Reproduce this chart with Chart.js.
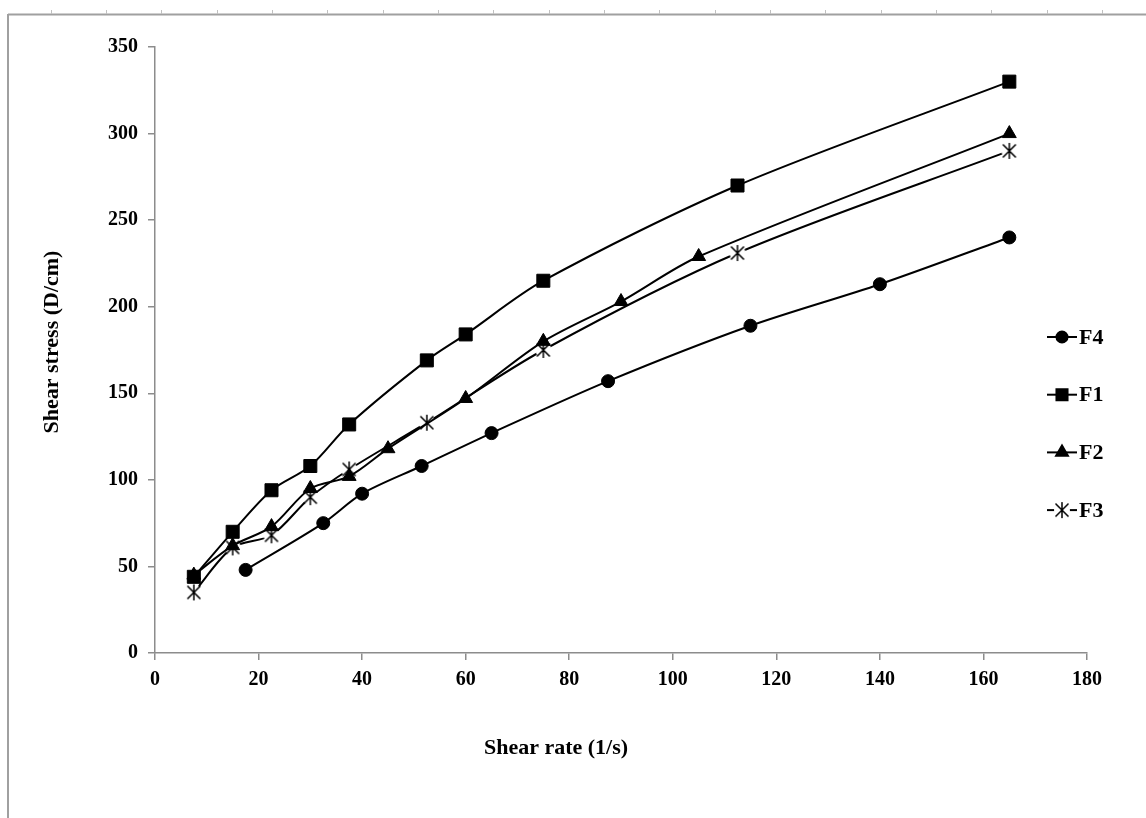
<!DOCTYPE html>
<html>
<head>
<meta charset="utf-8">
<script src="https://cdn.jsdelivr.net/npm/chart.js@4"></script>
<style>
  body { margin: 0; background: #fff; }
  #wrap { width: 1146px; height: 818px; }
</style>
</head>
<body>
<div id="wrap"><canvas id="canvasShear"></canvas></div>
<script>
// values
const seriesNames = ['F4', 'F1', 'F2', 'F3'];
const f4Rate = [17.5, 32.5, 40, 51.5, 65, 87.5, 115, 140, 165];
const f4Stress = [48, 75, 92, 108, 127, 157, 189, 213, 240];
const f1Rate = [7.5, 15, 22.5, 30, 37.5, 52.5, 60, 75, 112.5, 165];
const f1Stress = [44, 70, 94, 108, 132, 169, 184, 215, 270, 330];
const f2Rate = [7.5, 15, 22.5, 30, 37.5, 45, 60, 75, 90, 105, 165];
const f2Stress = [45, 62, 73, 95, 102, 118, 147, 180, 203, 229, 300];
const f3Rate = [7.5, 15, 22.5, 30, 37.5, 52.5, 75, 112.5, 165];
const f3Stress = [35, 61, 68, 90, 106, 133, 175, 231, 290];

const FONT = "'Liberation Serif', 'Times New Roman', serif";

// excel-like asterisk marker (x + vertical bar on white)
function makeAsterisk() {
    let c = document.createElement('canvas');
    c.width = 20; c.height = 20;
    let g = c.getContext('2d');
    g.fillStyle = '#fff';
    g.beginPath(); g.arc(10, 10, 8, 0, Math.PI * 2); g.fill();
    g.strokeStyle = '#000';
    g.lineWidth = 1.5;
    g.beginPath();
    g.moveTo(10, 2); g.lineTo(10, 18);
    g.moveTo(3.5, 3.5); g.lineTo(16.5, 16.5);
    g.moveTo(16.5, 3.5); g.lineTo(3.5, 16.5);
    g.stroke();
    return c;
}
const asterisk = makeAsterisk();

function pairs(xs, ys) {
    return xs.map((x, i) => ({x: x, y: ys[i]}));
}

function serie(label, xs, ys, style, radius) {
    return {
        label: label,
        data: pairs(xs, ys),
        borderColor: '#000',
        backgroundColor: '#000',
        borderWidth: 2,
        tension: 0.3,
        pointStyle: style,
        pointRadius: radius,
        pointHoverRadius: radius,
        pointBorderWidth: 1,
        pointBackgroundColor: '#000',
        pointBorderColor: '#000',
        fill: false
    };
}

// page frame, titles and the legend on the right
const decor = {
    id: 'decor',
    beforeDraw(chart) {
        let ctx = chart.ctx;
        ctx.save();
        ctx.fillStyle = '#fff';
        ctx.fillRect(0, 0, chart.width, chart.height);
        ctx.strokeStyle = '#a0a0a0';
        ctx.lineWidth = 2;
        ctx.beginPath();
        ctx.moveTo(8, 14.5); ctx.lineTo(chart.width, 14.5);
        ctx.moveTo(8, 14); ctx.lineTo(8, chart.height);
        ctx.stroke();
        ctx.lineWidth = 1;
        ctx.strokeStyle = '#c0c0c0';
        ctx.beginPath();
        for (let x = 50.7; x < chart.width; x += 55.33) {
            ctx.moveTo(Math.round(x) + 0.5, 10);
            ctx.lineTo(Math.round(x) + 0.5, 14);
        }
        ctx.stroke();
        ctx.restore();
    },
    afterDraw(chart) {
        let ctx = chart.ctx;
        ctx.save();
        ctx.fillStyle = '#000';
        ctx.font = 'bold 22px ' + FONT;
        ctx.textAlign = 'center';
        ctx.textBaseline = 'middle';
        ctx.fillText('Shear rate (1/s)', 556, 748);
        ctx.translate(52, 342);
        ctx.rotate(-Math.PI / 2);
        ctx.fillText('Shear stress (D/cm)', 0, 0);
        ctx.restore();

        ctx.save();
        chart.data.datasets.forEach((ds, i) => {
            let y = 337 + i * 57.7;
            ctx.strokeStyle = '#000';
            ctx.lineWidth = 2;
            ctx.beginPath();
            ctx.moveTo(1047, y); ctx.lineTo(1077, y);
            ctx.stroke();
            ctx.fillStyle = '#000';
            Chart.helpers.drawPoint(ctx, {
                pointStyle: ds.pointStyle,
                radius: ds.pointRadius * 0.85,
                rotation: 0,
                borderWidth: 1
            }, 1062, y);
            ctx.fillStyle = '#000';
            ctx.font = 'bold 22px ' + FONT;
            ctx.textAlign = 'left';
            ctx.textBaseline = 'middle';
            ctx.fillText(ds.label, 1079, y + 1);
        });
        ctx.restore();
    }
};

const axisGrid = {
    display: true,
    drawOnChartArea: false,
    drawTicks: true,
    tickLength: 7,
    color: '#8c8c8c',
    lineWidth: 1.5
};
const axisBorder = { display: true, color: '#8c8c8c', width: 1.5 };
const tickFont = { family: FONT, size: 20, weight: 'bold' };

new Chart(document.querySelector('#canvasShear'), {
    type: 'line',
    data: {
        datasets: [
            serie(seriesNames[0], f4Rate, f4Stress, 'circle', 6.5),
            serie(seriesNames[1], f1Rate, f1Stress, 'rect', 9.2),
            serie(seriesNames[2], f2Rate, f2Stress, 'triangle', 8),
            serie(seriesNames[3], f3Rate, f3Stress, asterisk, 8)
        ]
    },
    options: {
        responsive: true,
        maintainAspectRatio: false,
        animation: false,
        layout: { padding: { left: 0, right: 59, top: 47, bottom: 0 } },
        plugins: {
            legend: { display: false },
            title: { display: false },
            tooltip: { enabled: false }
        },
        scales: {
            x: {
                type: 'linear',
                min: 0,
                max: 180,
                grid: axisGrid,
                border: axisBorder,
                ticks: { stepSize: 20, color: '#000', font: tickFont, padding: 8, maxRotation: 0 },
                afterFit: s => { s.height = 165; }
            },
            y: {
                type: 'linear',
                min: 0,
                max: 350,
                grid: axisGrid,
                border: axisBorder,
                ticks: { stepSize: 50, color: '#000', font: tickFont, padding: 10 },
                afterFit: s => { s.width = 155; }
            }
        }
    },
    plugins: [decor]
});
</script>
</body>
</html>
